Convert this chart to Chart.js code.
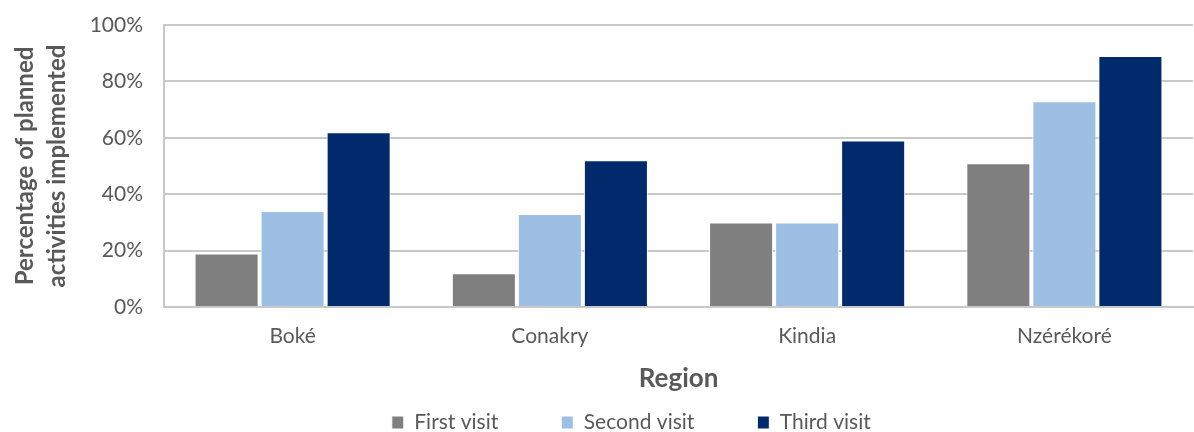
<!DOCTYPE html>
<html>
<head>
<meta charset="utf-8">
<script src="https://cdn.jsdelivr.net/npm/chart.js@4"></script>
<style>
  html, body { margin: 0; padding: 0; background: #fff; }
  #wrap { width: 1194px; height: 432px; }
</style>
</head>
<body>
<div id="wrap"><canvas id="chart"></canvas></div>
<script>
// ── DATA ──────────────────────────────────────────────
const regions = ['Boké', 'Conakry', 'Kindia', 'Nzérékoré'];
const firstVisit = [19, 12, 30, 51];
const secondVisit = [34, 33, 30, 73];
const thirdVisit = [62, 52, 59, 89];
const yTicks = [0, 20, 40, 60, 80, 100];

const textColor = '#595959';
const gridColor = '#c8c8c8';
const font = 'Lato, "Open Sans", sans-serif';

const mk = (label, data, color) => ({
  label, data,
  backgroundColor: color,
  borderColor: '#ffffff',
  borderWidth: 1,
  barPercentage: 0.97,
  categoryPercentage: 0.77,
});

// em spaces widen the gap between legend items (padding also sets legend height)
const gap = n => '\u2003'.repeat(n);

new Chart(document.getElementById('chart'), {
  type: 'bar',
  data: {
    labels: regions,
    datasets: [
      mk('First visit', firstVisit, '#7f7f7f'),
      mk('Second visit', secondVisit, '#9dbfe4'),
      mk('Third visit', thirdVisit, '#002a6c'),
    ]
  },
  options: {
    responsive: true,
    maintainAspectRatio: false,
    animation: false,
    layout: { padding: { top: 25, right: 1, left: 10, bottom: 0 } },
    plugins: {
      legend: {
        position: 'bottom',
        fullSize: false,
        maxHeight: 20,
        labels: {
          color: textColor,
          font: { family: font, size: 21 },
          boxWidth: 12, boxHeight: 13,
          padding: 0,
          generateLabels: chart => {
            const items = Chart.defaults.plugins.legend.labels.generateLabels(chart);
            items.forEach((it, i) => { it.text += gap(i < items.length - 1 ? 4 : 6); });
            return items;
          }
        }
      },
      tooltip: { enabled: false }
    },
    scales: {
      x: {
        afterFit: s => { s.height = 105; s.paddingTop = 0; s.paddingBottom = 0; },
        grid: { display: false },
        border: { color: gridColor, width: 2 },
        ticks: { color: textColor, font: { family: font, size: 21 }, padding: 9 },
        title: {
          display: true, text: 'Region', color: textColor,
          font: { family: font, size: 26, weight: 'bold' },
          padding: { top: 3, bottom: 18 }
        }
      },
      y: {
        min: 0, max: 100,
        afterFit: s => { s.width = 154; s.paddingTop = 0; s.paddingBottom = 0; },
        afterBuildTicks: axis => { axis.ticks = yTicks.map(v => ({ value: v })); },
        grid: { color: gridColor, lineWidth: 2, drawTicks: false },
        border: { color: gridColor, width: 2 },
        ticks: {
          color: textColor, font: { family: font, size: 21 }, padding: 21,
          callback: v => v + '%'
        },
        title: {
          display: true, text: ['Percentage of planned', 'activities implemented'], color: textColor,
          font: { family: font, size: 24, weight: 'bold', lineHeight: 1.3 },
          padding: { top: 0, bottom: 0 }
        }
      }
    }
  }
});
</script>
</body>
</html>
